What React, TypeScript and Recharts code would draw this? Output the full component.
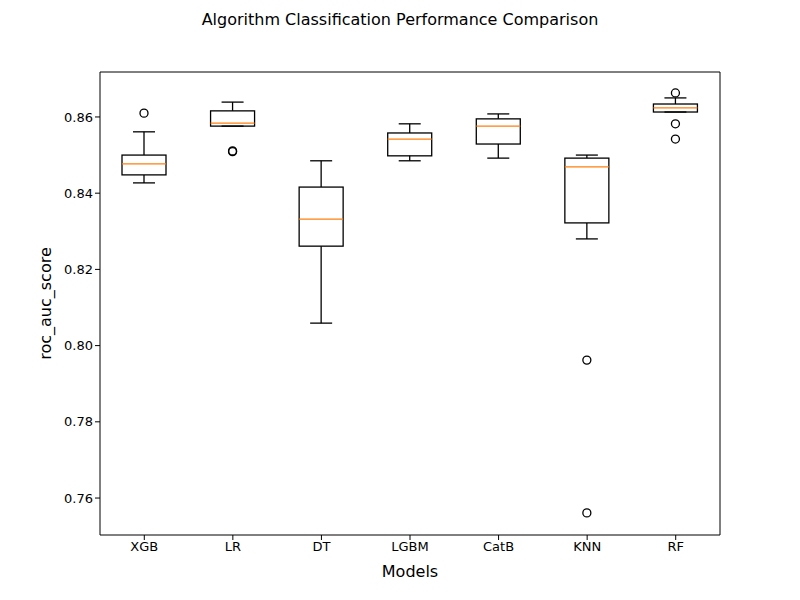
import React from "react";
import { ComposedChart, Bar, XAxis, YAxis, ReferenceLine } from "recharts";

const models = ["XGB", "LR", "DT", "LGBM", "CatB", "KNN", "RF"];
const lows = [0.8427, 0.8576, 0.8059, 0.8485, 0.8492, 0.828, 0.8613];
const q1s = [0.8448, 0.8576, 0.8261, 0.8498, 0.8529, 0.8322, 0.8613];
const medians = [0.8477, 0.8584, 0.8332, 0.8542, 0.8576, 0.8469, 0.8624];
const q3s = [0.85, 0.8616, 0.8416, 0.8558, 0.8595, 0.8492, 0.8634];
const highs = [0.8561, 0.8639, 0.8485, 0.8582, 0.8608, 0.85, 0.865];
const outliers = [[0.861], [0.8511, 0.8509], [], [], [], [0.7962, 0.7561], [0.8663, 0.8582, 0.8542]];
const yTicks = [0.76, 0.78, 0.8, 0.82, 0.84, 0.86];
const yMin = 0.7503;
const yMax = 0.8718;

const data = models.map((m, i) => ({
  model: m,
  range: [lows[i], highs[i]],
  low: lows[i],
  q1: q1s[i],
  median: medians[i],
  q3: q3s[i],
  high: highs[i],
  outliers: outliers[i],
}));

function BoxShape(props: any) {
  const { x, y, width, height, payload } = props;
  const { low, high, q1, median, q3 } = payload;
  const span = high - low;
  const pxPer = span > 0 ? height / span : 0;
  const toY = (v: number) => y + (high - v) * pxPer;
  const cx = x + width / 2;
  const cap = width / 4;
  const sw = 1.3;
  return (
    <g>
      <line x1={cx} x2={cx} y1={toY(high)} y2={toY(q3)} stroke="#000" strokeWidth={sw} />
      <line x1={cx} x2={cx} y1={toY(q1)} y2={toY(low)} stroke="#000" strokeWidth={sw} />
      <line x1={cx - cap} x2={cx + cap} y1={toY(high)} y2={toY(high)} stroke="#000" strokeWidth={sw} />
      <line x1={cx - cap} x2={cx + cap} y1={toY(low)} y2={toY(low)} stroke="#000" strokeWidth={sw} />
      <rect x={x} y={toY(q3)} width={width} height={Math.max(toY(q1) - toY(q3), 0.5)} fill="none" stroke="#000" strokeWidth={sw} />
      <line x1={x} x2={x + width} y1={toY(median)} y2={toY(median)} stroke="#ff7f0e" strokeWidth={sw} />
      {payload.outliers.map((v: number, k: number) => (
        <circle key={k} cx={cx} cy={toY(v)} r={4} fill="none" stroke="#000" strokeWidth={sw} />
      ))}
    </g>
  );
}

export default function App() {
  return (
    <div style={{ position: "absolute", left: 0, top: 0, width: 800, height: 600, background: "#fff", fontFamily: "DejaVu Sans" }}>
      <div style={{ position: "absolute", top: 10, width: 800, textAlign: "center", fontSize: 16 }}>
        Algorithm Classification Performance Comparison
      </div>
      <ComposedChart width={800} height={600} data={data} margin={{ top: 72, right: 79, left: 45, bottom: 35 }}>
        <XAxis dataKey="model" stroke="#000" tick={{ fill: "#000", fontSize: 13 }} tickSize={5}
          label={{ value: "Models", position: "insideBottom", offset: -12, fill: "#000", fontSize: 16 }} height={30} />
        <YAxis type="number" domain={[yMin, yMax]} allowDataOverflow ticks={yTicks} stroke="#000"
          tick={{ fill: "#000", fontSize: 13 }} tickSize={5} tickFormatter={(v: number) => v.toFixed(2)} width={55}
          label={{ value: "roc_auc_score", angle: -90, position: "insideLeft", offset: 0, fill: "#000", fontSize: 16, style: { textAnchor: "middle" } }} />
        <YAxis yAxisId="r" orientation="right" stroke="#000" tick={false} tickLine={false} width={1} />
        <ReferenceLine y={yMax} stroke="#000" />
        <Bar dataKey="range" barSize={44} shape={<BoxShape />} isAnimationActive={false} />
      </ComposedChart>
    </div>
  );
}
